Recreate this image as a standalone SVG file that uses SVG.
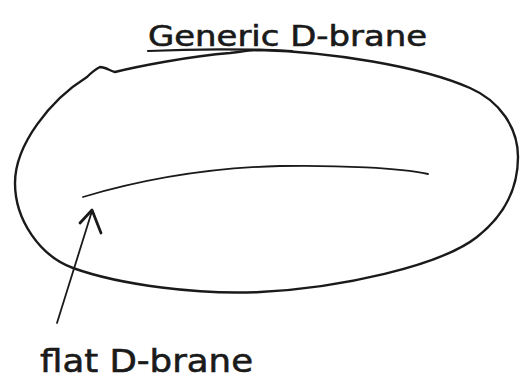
<svg xmlns="http://www.w3.org/2000/svg" width="520" height="381" viewBox="0 0 520 381">
<style>
.ink{fill:none;stroke:#1a1a1a;stroke-linecap:round;stroke-linejoin:round}
.hand{font-family:"DejaVu Sans",sans-serif;fill:#1a1a1a;stroke:#1a1a1a;stroke-width:0.6}
</style>
<rect width="520" height="381" fill="#fff"/>
<g id="generic-brane">
<path class="ink" stroke-width="2.4" d="M260,50 C330,52 420,66 470,88 C500,101 518,128 518,157 C518,188 505,215 477,237 C440,266 340,288 260,292 C200,295 120,285 73,268 C40,256 15,220 15,183 C15,145 50,100 87,77 C92,72 96,69 100,67 C106,67 110,71 115,72 C135,67 190,56 230,53 C240,52 250,50 260,50 Z"/>
<path class="ink" stroke-width="2.2" d="M148,51 C190,49 250,49 292,51"/>
<text class="hand" x="148" y="46" font-size="28" textLength="279" lengthAdjust="spacingAndGlyphs">Generic D-brane</text>
</g>
<g id="flat-brane">
<path class="ink" stroke-width="1.8" d="M83,197 C130,183 200,168 280,166 C340,165 400,168 428,174"/>
<text class="hand" x="40" y="372" font-size="32" textLength="213" lengthAdjust="spacingAndGlyphs">flat D-brane</text>
</g>
<g id="connectors">
<path class="ink" stroke-width="1.8" d="M57,323 L92,211"/>
<path class="ink" stroke-width="2.8" d="M80,223 L92,210 L101,233"/>
</g>
</svg>
